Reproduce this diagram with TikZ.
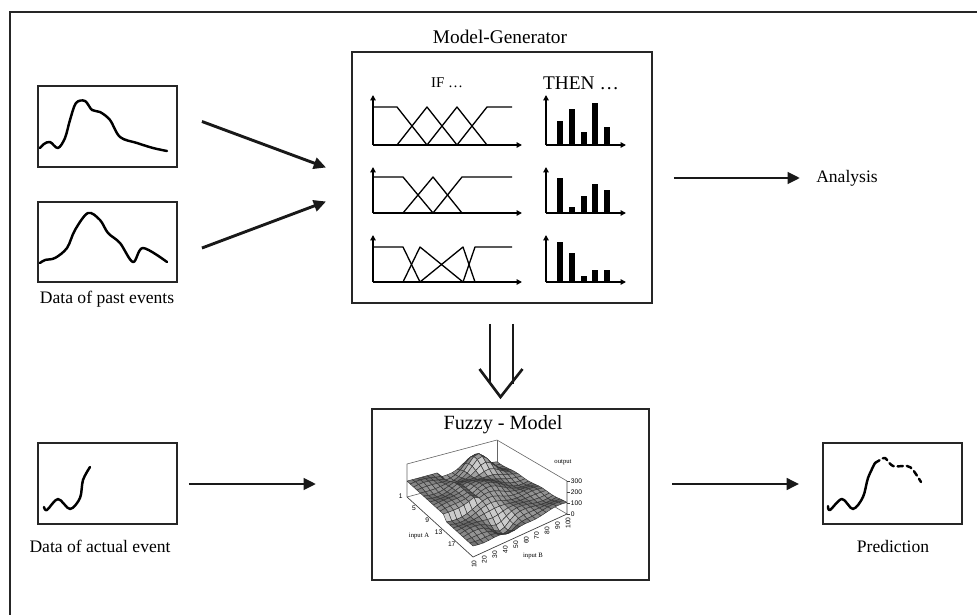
\documentclass[tikz,border=0pt]{standalone}
\usepackage{fontspec}
\setmainfont{Liberation Serif}
\newfontfamily\ticksans{Liberation Sans}
\usetikzlibrary{arrows.meta,calc}

\begin{document}
\begin{tikzpicture}[x=0.02cm,y=-0.02cm,
  frame/.style={draw=black!85,line width=1.7pt},
  box/.style={draw=black!85,line width=1.1pt,inner sep=0pt,rectangle},
  flow/.style={draw=black!90,line width=1.65pt,-{Triangle[length=7pt,width=6.5pt]}},
  curve/.style={line width=1.4pt,line cap=round,line join=round},
  ax/.style={line width=1.1pt,-{Triangle[length=3pt,width=3pt]}},
  mf/.style={line width=0.75pt,line join=round},
  bar/.style={fill=black},
  lbl/.style={inner sep=0pt,font=\fontsize{10}{12}\selectfont},
  wall/.style={draw=black!60,line width=0.35pt},
  mesh/.style={draw=black!80,line width=0.25pt,line join=round},
  tick/.style={inner sep=0pt,font=\ticksans\fontsize{3.8}{4}\selectfont},
  axlbl/.style={inner sep=0pt,font=\fontsize{3.8}{4}\selectfont}
]
\useasboundingbox (0,0) rectangle (977,615);

% outer frame
\draw[frame] (10,640) -- (10,12) -- (1000,12);

% data boxes
\node[box,minimum width=139*0.02cm,minimum height=81*0.02cm] (past1) at (107.5,126.5) {};
\node[box,minimum width=139*0.02cm,minimum height=80*0.02cm] (past2) at (107.5,242) {};
\node[box,minimum width=139*0.02cm,minimum height=81*0.02cm] (actual) at (107.5,483.5) {};
\node[box,minimum width=139*0.02cm,minimum height=81*0.02cm] (pred) at (892.5,483.5) {};
\node[box,minimum width=300*0.02cm,minimum height=251*0.02cm] (mg) at (502,177.5) {};
\node[box,minimum width=277*0.02cm,minimum height=171*0.02cm] (fm) at (510.5,494.5) {};

% time series curves
\draw[curve] plot[smooth,tension=0.55] coordinates {(40,148) (44,144) (50,142) (58,148) (65,138) (70,120) (76,103) (85,101) (92,110) (100,112) (110,120) (120,137) (137,143) (153,148) (167,151)};
\draw[curve] plot[smooth,tension=0.55] coordinates {(40,263) (45,260) (55,258) (67,248) (75,230) (88,213) (100,220) (108,233) (120,243) (133,262) (143,248) (167,262)};
\draw[curve] plot[smooth,tension=0.55] coordinates {(44,507) (47,510) (58,499) (70,509) (80,498) (83,480) (90,467)};
\draw[curve] plot[smooth,tension=0.55] coordinates {(828,506) (830,510) (842,499) (853,509) (863,497) (868,478) (875,463)};
\draw[curve,dash pattern=on 3pt off 2.2pt] plot[smooth,tension=0.55] coordinates {(875,463) (880,460) (885,458) (893,466) (907,466) (913,470) (921,482)};

% labels
\node[lbl] (lpast) at (107,299) {Data of past events};
\node[lbl] (lact) at (100,546) {Data of actual event};
\node[lbl] (lpred) at (893,546) {Prediction};
\node[lbl] (lana) at (847,178) {Analysis};
\node[inner sep=0pt,font=\fontsize{11}{13}\selectfont] (lmg) at (500,37) {Model-Generator};
\node[inner sep=0pt,font=\fontsize{8.5}{10}\selectfont] (lif) at (447,83) {IF \dots};
\node[inner sep=0pt,font=\fontsize{11}{13}\selectfont] (lthen) at (581,83) {THEN \dots};
\node[inner sep=0pt,font=\fontsize{11.5}{13}\selectfont] (lfm) at (503,425) {Fuzzy - Model};

% flow arrows
\coordinate (a1s) at ($(past1.east)+(24,-5)$);
\coordinate (a1e) at ($(mg.west)+(-25,-10)$);
\coordinate (a2s) at ($(past2.east)+(24,6)$);
\coordinate (a2e) at ($(mg.west)+(-25,24)$);
\coordinate (a3s) at ($(mg.east)+(21,0.5)$);
\coordinate (a3e) at ($(mg.east)+(147,0.5)$);
\coordinate (a4s) at ($(actual.east)+(11,0.5)$);
\coordinate (a4e) at ($(actual.east)+(138,0.5)$);
\coordinate (a5s) at ($(pred.west)+(-150,0.5)$);
\coordinate (a5e) at ($(pred.west)+(-23,0.5)$);
\draw[flow] (a1s) -- (a1e);
\draw[flow] (a2s) -- (a2e);
\draw[flow] (a3s) -- (a3e);
\draw[flow] (a4s) -- (a4e);
\draw[flow] (a5s) -- (a5e);

% double arrow from generator to model
\coordinate (dtip) at ($(fm.north)+(-10,-11)$);
\coordinate (dl) at ($(mg.south)+(-12,20)$);
\coordinate (dr) at ($(mg.south)+(11,20)$);
\draw[line width=1.5pt,black!90] (dl) -- ($(dl)+(0,60.5)$);
\draw[line width=1.5pt,black!90] (dr) -- ($(dr)+(0,60.5)$);
\draw[line width=1.5pt,black!90,line join=miter] ($(dtip)+(-21,-28)$) -- (dtip) -- ($(dtip)+(22,-28)$);

% membership functions (IF part) and axes of both parts
\foreach \yb/\yt/\ya in {145/107/95, 213/177/167, 282/247/235}{
  \draw[ax] (373,\yb) -- (522,\yb);
  \draw[ax] (373,\yb) -- (373,\ya);
  \draw[ax] (546,\yb) -- (626,\yb);
  \draw[ax] (546,\yb) -- (546,\ya);
}
\draw[mf] (373,107) -- (397,107) -- (427,145);
\draw[mf] (397,145) -- (427,107) -- (457,145);
\draw[mf] (427,145) -- (457,107) -- (487,145);
\draw[mf] (457,145) -- (487,107) -- (512,107);

\draw[mf] (373,177) -- (403,177) -- (433,213);
\draw[mf] (403,213) -- (433,177) -- (462,213);
\draw[mf] (433,213) -- (462,177) -- (512,177);

\draw[mf] (373,247) -- (403,247) -- (420,282);
\draw[mf] (403,282) -- (420,247) -- (463,282);
\draw[mf] (420,282) -- (463,247) -- (475,282);
\draw[mf] (463,282) -- (475,247) -- (512,247);

% output singletons (THEN part)
\foreach \x/\t in {557/121, 569/109, 581/132, 592/103, 604/127}
  \fill[bar] (\x,145) rectangle (\x+6,\t);
\foreach \x/\t in {557/178, 569/207, 581/196, 592/184, 604/190}
  \fill[bar] (\x,213) rectangle (\x+6,\t);
\foreach \x/\t in {557/242, 569/253, 581/276, 592/270, 604/270}
  \fill[bar] (\x,282) rectangle (\x+6,\t);

% ---- 3D surface chart of the fuzzy model ----
\coordinate (fL) at (407,497);
\coordinate (fF) at (473,557);
\coordinate (fR) at (567,514);
\coordinate (fB) at (497,473);
\coordinate (tL) at (407,464);
\coordinate (tB) at (497,440);
\coordinate (tR) at (567,481);
% back walls
\draw[wall] (fL) -- (tL) -- (tB) -- (tR);
\draw[wall] (fB) -- (tB);
\draw[wall] (fL) -- (fB) -- (fR);

% grid of surface points
\foreach \i in {0,...,20}{
  \foreach \j in {0,...,18}{
    \pgfmathsetmacro\sa{\i/20}
    \pgfmathsetmacro\sb{\j/18}
    \pgfmathsetmacro\ga{(\sa-0.12)*(\sa-0.12)/0.03+(\sb-0.72)*(\sb-0.72)/0.02}
    \pgfmathsetmacro\gb{(\sa-0.45)*(\sa-0.45)/0.05+(\sb-0.5)*(\sb-0.5)/0.04}
    \pgfmathsetmacro\gc{(\sa-0.9)*(\sa-0.9)/0.015+(\sb-0.4)*(\sb-0.4)/0.012}
    \pgfmathsetmacro\sh{100+45*(\sb<0.35)*(\sa<0.55)+170*exp(-min(\ga,12))+110*exp(-min(\gb,12))-95*exp(-min(\gc,12))+16*sin(1000*\sa)*sin(700*\sb)}
    \pgfmathsetmacro\sh{max(0,min(300,\sh))}
    \pgfmathsetmacro\px{(1-\sa)*(1-\sb)*407+\sa*(1-\sb)*473+\sa*\sb*567+(1-\sa)*\sb*497}
    \pgfmathsetmacro\py{(1-\sa)*(1-\sb)*497+\sa*(1-\sb)*557+\sa*\sb*514+(1-\sa)*\sb*473-0.11*\sh}
    \coordinate (s-\i-\j) at (\px,\py);
    \expandafter\xdef\csname sh-\i-\j\endcsname{\sh}
  }
}
% cells, painted from back to front
\foreach \i in {0,...,19}{
  \foreach \j in {17,...,0}{
    \pgfmathtruncatemacro\ii{\i+1}
    \pgfmathtruncatemacro\jj{\j+1}
    \pgfmathtruncatemacro\shade{max(20,min(80,52+0.9*(\csname sh-\ii-\j\endcsname-\csname sh-\i-\j\endcsname)-0.5*(\csname sh-\i-\jj\endcsname-\csname sh-\i-\j\endcsname)))}
    \filldraw[mesh,fill=black!\shade!white] (s-\i-\j) -- (s-\ii-\j) -- (s-\ii-\jj) -- (s-\i-\jj) -- cycle;
  }
}
% front axes
\draw[black!75,line width=0.4pt] (fL) -- (fF) -- (fR) -- (tR);
\foreach \v in {1,5,9,13,17}{
  \pgfmathsetmacro\aa{(\v-1)/20}
  \node[tick,anchor=east] (ta\v) at ($(fL)!\aa!(fF)+(-4,-1)$) {\v};
}
\foreach \v in {10,20,...,100}{
  \pgfmathsetmacro\bb{(\v-10)/90}
  \node[tick,anchor=east,rotate=90] (tb\v) at ($(fF)!\bb!(fR)+(1,3)$) {\v};
}
\foreach \v/\y in {0/514, 100/503, 200/492, 300/481}{
  \draw[black!75,line width=0.4pt] (567,\y) -- (570,\y);
  \node[tick,anchor=west] (tc\v) at (570.5,\y) {\v};
}
\node[axlbl] (lout) at (563,462) {output};
\node[axlbl] (lina) at (419,536) {input A};
\node[axlbl] (linb) at (533,556) {input B};
\end{tikzpicture}
\end{document}
